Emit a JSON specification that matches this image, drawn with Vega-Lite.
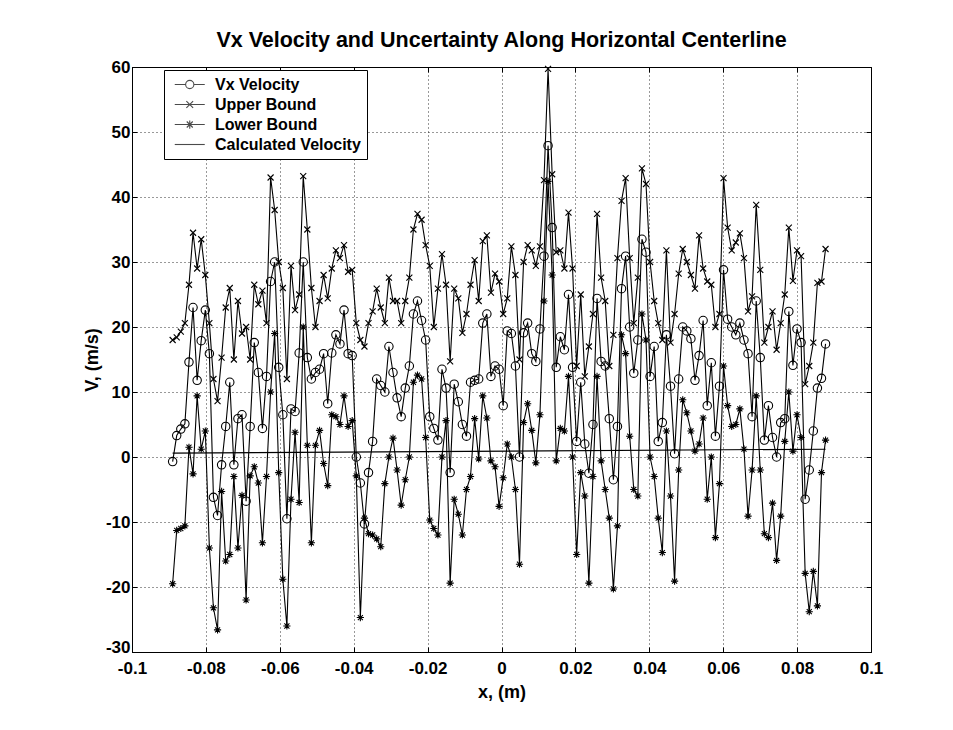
{
"$schema": "https://vega.github.io/schema/vega-lite/v6.json",
"width": 739, "height": 585,
"padding": {"left": 83, "top": 29, "right": 5, "bottom": 5},
"background": "white",
"title": {"text": "Vx Velocity and Uncertainty Along Horizontal Centerline", "font": "Liberation Sans", "fontSize": 21.5, "fontWeight": "bold", "color": "black", "offset": 7, "anchor": "middle"},
"config": {
  "view": {"stroke": "black", "strokeWidth": 1},
  "font": "Liberation Sans",
  "axis": {"labelFont": "Liberation Sans", "labelFontSize": 17, "labelFontWeight": "bold", "labelColor": "black", "titleFont": "Liberation Sans", "titleFontSize": 18, "titleFontWeight": "bold", "titleColor": "black", "domainColor": "black", "tickColor": "black", "gridColor": "black", "gridDash": [1, 3], "gridOpacity": 0.8, "tickSize": -5, "labelFlush": false}
},
"data": {"values": [
{"x":-0.08900,"v":-0.7,"u":18.0,"l":-19.5,"c":0.6},
{"x":-0.08790,"v":3.3,"u":18.4,"l":-11.3},
{"x":-0.08679,"v":4.3,"u":19.3,"l":-11.0},
{"x":-0.08569,"v":5.1,"u":20.6,"l":-10.6},
{"x":-0.08458,"v":14.6,"u":26.5,"l":1.5},
{"x":-0.08348,"v":23.0,"u":34.5,"l":-2.6},
{"x":-0.08237,"v":11.8,"u":29.0,"l":9.4},
{"x":-0.08127,"v":17.9,"u":33.5,"l":1.2},
{"x":-0.08016,"v":22.6,"u":28.0,"l":4.0},
{"x":-0.07906,"v":15.9,"u":20.6,"l":-14.0},
{"x":-0.07796,"v":-6.2,"u":12.0,"l":-23.2},
{"x":-0.07685,"v":-9.0,"u":8.6,"l":-26.6},
{"x":-0.07575,"v":-1.2,"u":15.3,"l":-5.3},
{"x":-0.07464,"v":4.7,"u":23.0,"l":-16.0},
{"x":-0.07354,"v":11.5,"u":26.0,"l":-15.0},
{"x":-0.07243,"v":-1.2,"u":15.0,"l":-3.0},
{"x":-0.07133,"v":5.9,"u":24.0,"l":-14.0},
{"x":-0.07023,"v":6.5,"u":19.0,"l":-5.9},
{"x":-0.06912,"v":-6.8,"u":20.0,"l":-22.0},
{"x":-0.06802,"v":4.7,"u":15.0,"l":-2.9},
{"x":-0.06691,"v":17.6,"u":26.5,"l":-1.5},
{"x":-0.06581,"v":13.0,"u":23.5,"l":-4.0},
{"x":-0.06470,"v":4.4,"u":25.6,"l":-13.2},
{"x":-0.06360,"v":12.4,"u":20.6,"l":-3.0},
{"x":-0.06249,"v":27.0,"u":43.0,"l":10.0},
{"x":-0.06139,"v":30.0,"u":38.0,"l":19.0},
{"x":-0.06029,"v":13.8,"u":30.0,"l":-2.4},
{"x":-0.05918,"v":6.5,"u":26.0,"l":-18.8},
{"x":-0.05808,"v":-9.5,"u":12.0,"l":-26.0},
{"x":-0.05697,"v":7.4,"u":29.4,"l":-6.5},
{"x":-0.05587,"v":7.0,"u":22.6,"l":3.8},
{"x":-0.05476,"v":16.0,"u":25.0,"l":-7.0},
{"x":-0.05366,"v":30.0,"u":43.2,"l":20.0},
{"x":-0.05255,"v":15.3,"u":35.0,"l":1.8},
{"x":-0.05145,"v":12.0,"u":26.0,"l":-13.2},
{"x":-0.05035,"v":13.0,"u":20.0,"l":1.8},
{"x":-0.04924,"v":13.5,"u":24.0,"l":4.1},
{"x":-0.04814,"v":15.9,"u":28.0,"l":-1.0},
{"x":-0.04703,"v":8.2,"u":24.4,"l":-4.4},
{"x":-0.04593,"v":16.0,"u":29.0,"l":6.5},
{"x":-0.04482,"v":18.8,"u":31.8,"l":6.2},
{"x":-0.04372,"v":17.4,"u":30.6,"l":5.0},
{"x":-0.04262,"v":22.6,"u":32.6,"l":9.4},
{"x":-0.04151,"v":15.9,"u":28.5,"l":4.7},
{"x":-0.04041,"v":15.6,"u":28.8,"l":5.6},
{"x":-0.03930,"v":0.0,"u":20.6,"l":-2.9},
{"x":-0.03820,"v":-4.0,"u":18.0,"l":-24.7},
{"x":-0.03709,"v":-10.3,"u":17.0,"l":-9.4},
{"x":-0.03599,"v":-2.4,"u":20.6,"l":-11.8},
{"x":-0.03488,"v":2.4,"u":22.4,"l":-12.0},
{"x":-0.03378,"v":12.0,"u":25.9,"l":-12.6},
{"x":-0.03268,"v":11.0,"u":23.0,"l":-13.8},
{"x":-0.03157,"v":10.0,"u":20.6,"l":-4.1},
{"x":-0.03047,"v":17.0,"u":27.6,"l":0.0},
{"x":-0.02936,"v":13.0,"u":24.0,"l":2.9},
{"x":-0.02826,"v":9.1,"u":24.0,"l":-2.0},
{"x":-0.02715,"v":6.2,"u":20.6,"l":-7.4},
{"x":-0.02605,"v":10.6,"u":24.0,"l":-3.5},
{"x":-0.02494,"v":14.0,"u":27.6,"l":0.0},
{"x":-0.02384,"v":22.0,"u":35.0,"l":11.5},
{"x":-0.02274,"v":24.0,"u":37.4,"l":12.6},
{"x":-0.02163,"v":21.0,"u":36.5,"l":12.0},
{"x":-0.02053,"v":18.0,"u":32.6,"l":3.0},
{"x":-0.01942,"v":6.2,"u":29.4,"l":-9.7},
{"x":-0.01832,"v":4.4,"u":20.0,"l":-11.0},
{"x":-0.01721,"v":2.6,"u":25.9,"l":-12.0},
{"x":-0.01611,"v":13.5,"u":31.2,"l":0.0},
{"x":-0.01501,"v":10.6,"u":26.5,"l":5.6},
{"x":-0.01390,"v":-2.4,"u":14.7,"l":-19.4},
{"x":-0.01280,"v":11.2,"u":25.9,"l":-6.5},
{"x":-0.01169,"v":8.5,"u":24.4,"l":-8.8},
{"x":-0.01059,"v":5.0,"u":19.1,"l":-12.0},
{"x":-0.00948,"v":3.2,"u":22.0,"l":-5.0},
{"x":-0.00838,"v":11.5,"u":26.5,"l":-3.0},
{"x":-0.00727,"v":11.8,"u":30.3,"l":5.9},
{"x":-0.00617,"v":12.0,"u":24.0,"l":-0.3},
{"x":-0.00507,"v":20.6,"u":33.2,"l":9.4},
{"x":-0.00396,"v":22.0,"u":34.1,"l":6.0},
{"x":-0.00286,"v":12.4,"u":25.3,"l":-0.6},
{"x":-0.00175,"v":14.0,"u":28.2,"l":-1.5},
{"x":-0.00065,"v":13.5,"u":27.0,"l":-7.6},
{"x":0.00046,"v":7.9,"u":22.0,"l":-3.2},
{"x":0.00156,"v":19.4,"u":24.4,"l":2.0},
{"x":0.00267,"v":19.0,"u":32.4,"l":0.0},
{"x":0.00377,"v":14.0,"u":28.0,"l":-5.0},
{"x":0.00487,"v":0.0,"u":15.0,"l":-16.5},
{"x":0.00598,"v":19.1,"u":30.0,"l":5.3},
{"x":0.00708,"v":20.6,"u":32.6,"l":8.2},
{"x":0.00819,"v":15.9,"u":31.8,"l":4.1},
{"x":0.00929,"v":14.7,"u":29.4,"l":-0.9},
{"x":0.01040,"v":19.7,"u":32.4,"l":6.5},
{"x":0.01150,"v":30.9,"u":42.6,"l":24.0},
{"x":0.01260,"v":47.9,"u":59.7,"l":42.4},
{"x":0.01371,"v":35.3,"u":43.5,"l":28.0},
{"x":0.01481,"v":13.8,"u":31.5,"l":-0.6},
{"x":0.01592,"v":18.5,"u":31.8,"l":4.4},
{"x":0.01702,"v":16.5,"u":29.0,"l":4.0},
{"x":0.01813,"v":25.0,"u":37.6,"l":12.4},
{"x":0.01923,"v":13.8,"u":29.0,"l":0.0},
{"x":0.02034,"v":2.4,"u":14.0,"l":-15.0},
{"x":0.02144,"v":11.5,"u":25.0,"l":-2.4},
{"x":0.02254,"v":2.0,"u":12.4,"l":-6.0},
{"x":0.02365,"v":-2.5,"u":17.0,"l":-19.4},
{"x":0.02475,"v":5.0,"u":22.0,"l":-3.0},
{"x":0.02586,"v":24.4,"u":37.4,"l":12.4},
{"x":0.02696,"v":14.7,"u":27.6,"l":-0.6},
{"x":0.02807,"v":14.0,"u":24.0,"l":-5.0},
{"x":0.02917,"v":5.9,"u":14.0,"l":-9.4},
{"x":0.03028,"v":-3.5,"u":18.8,"l":-20.3},
{"x":0.03138,"v":4.7,"u":30.6,"l":-10.6},
{"x":0.03248,"v":25.9,"u":39.4,"l":18.8},
{"x":0.03359,"v":30.9,"u":42.9,"l":15.9},
{"x":0.03469,"v":20.0,"u":30.6,"l":3.2},
{"x":0.03580,"v":12.9,"u":20.6,"l":-5.0},
{"x":0.03690,"v":18.0,"u":27.6,"l":-6.0},
{"x":0.03801,"v":33.5,"u":44.4,"l":22.0},
{"x":0.03911,"v":31.5,"u":42.0,"l":18.0},
{"x":0.04021,"v":12.4,"u":30.0,"l":0.0},
{"x":0.04132,"v":17.0,"u":24.0,"l":-3.0},
{"x":0.04242,"v":2.4,"u":20.6,"l":-9.4},
{"x":0.04353,"v":5.3,"u":18.0,"l":-14.7},
{"x":0.04463,"v":18.8,"u":31.8,"l":4.0},
{"x":0.04574,"v":10.9,"u":17.6,"l":-6.0},
{"x":0.04684,"v":0.5,"u":22.0,"l":-19.1},
{"x":0.04795,"v":12.0,"u":28.2,"l":-2.0},
{"x":0.04905,"v":20.0,"u":32.0,"l":8.8},
{"x":0.05015,"v":19.4,"u":30.0,"l":6.8},
{"x":0.05126,"v":18.2,"u":28.0,"l":4.0},
{"x":0.05236,"v":11.8,"u":25.9,"l":0.9},
{"x":0.05347,"v":15.6,"u":34.1,"l":2.0},
{"x":0.05457,"v":21.0,"u":29.0,"l":6.0},
{"x":0.05568,"v":7.9,"u":27.0,"l":-6.5},
{"x":0.05678,"v":14.5,"u":26.5,"l":0.0},
{"x":0.05789,"v":3.2,"u":20.0,"l":-12.4},
{"x":0.05899,"v":10.9,"u":22.0,"l":-4.1},
{"x":0.06009,"v":28.8,"u":42.9,"l":14.0},
{"x":0.06120,"v":21.2,"u":35.3,"l":7.9},
{"x":0.06230,"v":20.0,"u":31.8,"l":4.7},
{"x":0.06341,"v":18.8,"u":33.0,"l":5.0},
{"x":0.06451,"v":20.6,"u":34.4,"l":7.4},
{"x":0.06562,"v":18.0,"u":30.6,"l":1.2},
{"x":0.06672,"v":15.9,"u":22.4,"l":-9.1},
{"x":0.06782,"v":6.2,"u":24.7,"l":-2.0},
{"x":0.06893,"v":24.0,"u":38.8,"l":9.4},
{"x":0.07003,"v":15.3,"u":28.8,"l":-2.0},
{"x":0.07114,"v":2.6,"u":17.6,"l":-11.8},
{"x":0.07224,"v":7.9,"u":20.0,"l":-12.4},
{"x":0.07335,"v":3.0,"u":22.4,"l":-7.1},
{"x":0.07445,"v":0.0,"u":16.5,"l":-15.9},
{"x":0.07556,"v":5.3,"u":20.6,"l":-9.1},
{"x":0.07666,"v":5.9,"u":25.0,"l":2.4},
{"x":0.07776,"v":22.4,"u":35.3,"l":10.0},
{"x":0.07887,"v":14.1,"u":27.1,"l":0.9},
{"x":0.07997,"v":19.7,"u":31.8,"l":6.5},
{"x":0.08108,"v":17.6,"u":30.9,"l":3.0},
{"x":0.08218,"v":-6.5,"u":11.2,"l":-17.9},
{"x":0.08329,"v":-2.0,"u":14.0,"l":-23.8},
{"x":0.08439,"v":4.0,"u":17.6,"l":-17.6},
{"x":0.08550,"v":10.6,"u":26.8,"l":-22.9},
{"x":0.08660,"v":12.1,"u":27.0,"l":-2.4},
{"x":0.08770,"v":17.4,"u":32.0,"l":2.6,"c":1.2}
]},
"transform": [
  {"fold": ["v", "u", "l", "c"], "as": ["key", "val"]},
  {"filter": "isValid(datum.val)"}
],
"layer": [
  {
    "mark": {"type": "line", "color": "black", "strokeWidth": 1.1},
    "encoding": {
      "x": {"field": "x", "type": "quantitative", "scale": {"domain": [-0.1, 0.1], "nice": false, "zero": false},
            "axis": {"title": "x, (m)", "values": [-0.1,-0.08,-0.06,-0.04,-0.02,0,0.02,0.04,0.06,0.08,0.1], "labelExpr": "replace(format(datum.value, '~g'), '\u2212', '-')", "grid": true, "labelPadding": 13, "titlePadding": 7}},
      "y": {"field": "val", "type": "quantitative", "scale": {"domain": [-30, 60], "nice": false, "zero": false},
            "axis": {"title": "V, (m/s)", "values": [-30,-20,-10,0,10,20,30,40,50,60], "labelExpr": "replace(format(datum.value, 'd'), '\u2212', '-')", "labelBaseline": {"condition": {"test": "datum.value == -30", "value": "alphabetic"}, "value": "middle"}, "grid": true, "labelPadding": 7, "titlePadding": 4}},
      "detail": {"field": "key"}
    }
  },
  {
    "transform": [{"filter": "datum.key != 'c'"}],
    "mark": {"type": "point", "filled": false, "color": "black", "strokeWidth": 1.1, "size": 144, "opacity": 1},
    "encoding": {
      "x": {"field": "x", "type": "quantitative", "axis": null},
      "y": {"field": "val", "type": "quantitative", "axis": null},
      "shape": {"field": "key", "type": "nominal",
        "scale": {"domain": ["v", "u", "l"], "range": ["M0.7,0A0.7,0.7 0 1,1 -0.7,0A0.7,0.7 0 1,1 0.7,0", "M-0.5,-0.5L0.5,0.5M-0.5,0.5L0.5,-0.5", "M0,-0.6V0.6M-0.6,0H0.6M-0.42,-0.42L0.42,0.42M-0.42,0.42L0.42,-0.42"]},
        "legend": null
      }
    }
  },
  {
    "transform": [{"filter": "datum.key == 'none'"}],
    "mark": {"type": "point", "filled": false, "color": "black", "strokeWidth": 1.1},
    "encoding": {
      "x": {"field": "x", "type": "quantitative", "axis": null},
      "y": {"field": "val", "type": "quantitative", "axis": null},
      "shape": {"field": "key", "type": "nominal",
        "scale": {"domain": ["v", "u", "l", "c"], "range": [
          "M-0.5,0H0.95M2.05,0H3.5M2.05,0A0.55,0.55 0 1,1 0.95,0A0.55,0.55 0 1,1 2.05,0",
          "M-0.5,0H3.5M1.05,-0.45L1.95,0.45M1.05,0.45L1.95,-0.45",
          "M-0.5,0H3.5M1.5,-0.55V0.55M1.1,-0.4L1.9,0.4M1.1,0.4L1.9,-0.4",
          "M-0.5,0H3.5"]},
        "legend": {"title": null, "orient": "none", "legendX": 32, "legendY": 3,
          "labelExpr": "datum.value == 'v' ? 'Vx Velocity' : datum.value == 'u' ? 'Upper Bound' : datum.value == 'l' ? 'Lower Bound' : 'Calculated Velocity'",
          "labelFont": "Liberation Sans", "labelFontSize": 16, "labelFontWeight": "bold", "labelColor": "black", "labelOffset": 28,
          "symbolSize": 225, "symbolStrokeColor": "black", "symbolStrokeWidth": 1.1, "symbolFillColor": "transparent",
          "strokeColor": "black", "fillColor": "white", "padding": 6, "rowPadding": 3}
      }
    }
  },
  {
    "mark": {"type": "line", "opacity": 0},
    "encoding": {
      "x": {"field": "x", "type": "quantitative", "axis": {"orient": "top", "title": null, "labels": false, "grid": false, "domain": false, "values": [-0.1,-0.08,-0.06,-0.04,-0.02,0,0.02,0.04,0.06,0.08,0.1]}},
      "y": {"field": "val", "type": "quantitative", "axis": {"orient": "right", "title": null, "labels": false, "grid": false, "domain": false, "values": [-30,-20,-10,0,10,20,30,40,50,60]}},
      "detail": {"field": "key"}
    }
  }
],
"resolve": {"axis": {"x": "independent", "y": "independent"}, "scale": {"shape": "independent"}, "legend": {"shape": "independent"}}
}
